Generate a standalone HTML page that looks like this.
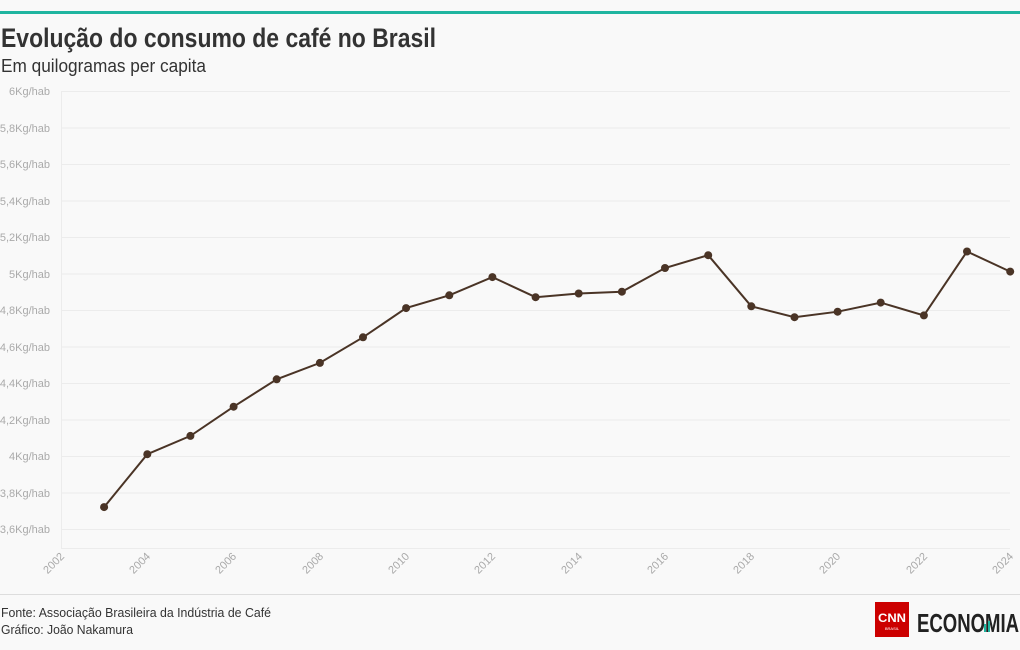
<!DOCTYPE html>
<html><head><meta charset="utf-8"><style>
html,body{margin:0;padding:0;background:#f9f9f9;}
svg{display:block;font-family:"Liberation Sans",sans-serif;}
</style></head><body>
<svg width="1020" height="650" viewBox="0 0 1020 650" xmlns="http://www.w3.org/2000/svg">
<rect width="1020" height="650" fill="#f9f9f9"/>
<rect x="0" y="11" width="1020" height="3" fill="#1fb5a0"/>
<text x="1" y="47" font-size="27" font-weight="bold" fill="#333" textLength="435" lengthAdjust="spacingAndGlyphs">Evolução do consumo de café no Brasil</text>
<text x="1" y="72" font-size="18" fill="#333" textLength="205" lengthAdjust="spacingAndGlyphs">Em quilogramas per capita</text>
<g stroke="#ececec" stroke-width="1">
<line x1="61" x2="1010" y1="91.5" y2="91.5"/><line x1="61" x2="1010" y1="128" y2="128"/>
<line x1="61" x2="1010" y1="164.5" y2="164.5"/><line x1="61" x2="1010" y1="201" y2="201"/>
<line x1="61" x2="1010" y1="237.5" y2="237.5"/><line x1="61" x2="1010" y1="274" y2="274"/>
<line x1="61" x2="1010" y1="310.5" y2="310.5"/><line x1="61" x2="1010" y1="347" y2="347"/>
<line x1="61" x2="1010" y1="383.5" y2="383.5"/><line x1="61" x2="1010" y1="420" y2="420"/>
<line x1="61" x2="1010" y1="456.5" y2="456.5"/><line x1="61" x2="1010" y1="493" y2="493"/>
<line x1="61" x2="1010" y1="529.5" y2="529.5"/><line x1="61" x2="1010" y1="548.5" y2="548.5"/>
<line x1="61.5" x2="61.5" y1="91" y2="549"/>
</g>
<g font-size="11" fill="#aaa" text-anchor="end">
<text x="50" y="95">6Kg/hab</text><text x="50" y="132">5,8Kg/hab</text><text x="50" y="168">5,6Kg/hab</text>
<text x="50" y="205">5,4Kg/hab</text><text x="50" y="241">5,2Kg/hab</text><text x="50" y="278">5Kg/hab</text>
<text x="50" y="314">4,8Kg/hab</text><text x="50" y="351">4,6Kg/hab</text><text x="50" y="387">4,4Kg/hab</text>
<text x="50" y="424">4,2Kg/hab</text><text x="50" y="460">4Kg/hab</text><text x="50" y="497">3,8Kg/hab</text>
<text x="50" y="533">3,6Kg/hab</text>
</g>
<g font-size="11" fill="#aaa" text-anchor="end">
<text transform="translate(65,557) rotate(-45)">2002</text>
<text transform="translate(151,557) rotate(-45)">2004</text>
<text transform="translate(237,557) rotate(-45)">2006</text>
<text transform="translate(324,557) rotate(-45)">2008</text>
<text transform="translate(410,557) rotate(-45)">2010</text>
<text transform="translate(496,557) rotate(-45)">2012</text>
<text transform="translate(583,557) rotate(-45)">2014</text>
<text transform="translate(669,557) rotate(-45)">2016</text>
<text transform="translate(755,557) rotate(-45)">2018</text>
<text transform="translate(841,557) rotate(-45)">2020</text>
<text transform="translate(928,557) rotate(-45)">2022</text>
<text transform="translate(1014,557) rotate(-45)">2024</text>
</g>
<polyline fill="none" stroke="#4a3426" stroke-width="2" points="104.1,507.1 147.3,454.2 190.4,435.9 233.6,406.7 276.7,379.3 319.9,362.9 363.0,337.3 406.1,308.1 449.3,295.3 492.4,277.1 535.6,297.2 578.7,293.5 621.9,291.7 665.0,268.0 708.2,255.2 751.3,306.3 794.5,317.2 837.6,311.7 880.7,302.6 923.9,315.4 967.0,251.5 1010.2,271.6"/>
<g fill="#4a3426">
<circle cx="104.1" cy="507.1" r="4"/><circle cx="147.3" cy="454.2" r="4"/><circle cx="190.4" cy="435.9" r="4"/>
<circle cx="233.6" cy="406.7" r="4"/><circle cx="276.7" cy="379.3" r="4"/><circle cx="319.9" cy="362.9" r="4"/>
<circle cx="363.0" cy="337.3" r="4"/><circle cx="406.1" cy="308.1" r="4"/><circle cx="449.3" cy="295.3" r="4"/>
<circle cx="492.4" cy="277.1" r="4"/><circle cx="535.6" cy="297.2" r="4"/><circle cx="578.7" cy="293.5" r="4"/>
<circle cx="621.9" cy="291.7" r="4"/><circle cx="665.0" cy="268.0" r="4"/><circle cx="708.2" cy="255.2" r="4"/>
<circle cx="751.3" cy="306.3" r="4"/><circle cx="794.5" cy="317.2" r="4"/><circle cx="837.6" cy="311.7" r="4"/>
<circle cx="880.7" cy="302.6" r="4"/><circle cx="923.9" cy="315.4" r="4"/><circle cx="967.0" cy="251.5" r="4"/>
<circle cx="1010.2" cy="271.6" r="4"/>
</g>
<line x1="0" x2="1020" y1="594.5" y2="594.5" stroke="#ddd"/>
<text x="1" y="617" font-size="13" fill="#333" textLength="270" lengthAdjust="spacingAndGlyphs">Fonte: Associação Brasileira da Indústria de Café</text>
<text x="1" y="634" font-size="13" fill="#333" textLength="132" lengthAdjust="spacingAndGlyphs">Gráfico: João Nakamura</text>
<rect x="875" y="602" width="34" height="35" fill="#cc0000"/>
<text x="892" y="622" font-size="12" font-weight="bold" fill="#fff" text-anchor="middle" textLength="28" lengthAdjust="spacingAndGlyphs">CNN</text>
<text x="892" y="630" font-size="4" fill="#fff" text-anchor="middle">BRASIL</text>
<text x="917" y="632" font-size="26" font-weight="bold" fill="#222" textLength="102" lengthAdjust="spacingAndGlyphs">ECONOMIA</text>
<rect x="984" y="624" width="2" height="8" fill="#1fb5a0"/><rect x="988" y="621" width="2" height="11" fill="#1fb5a0"/>
</svg>
</body></html>
